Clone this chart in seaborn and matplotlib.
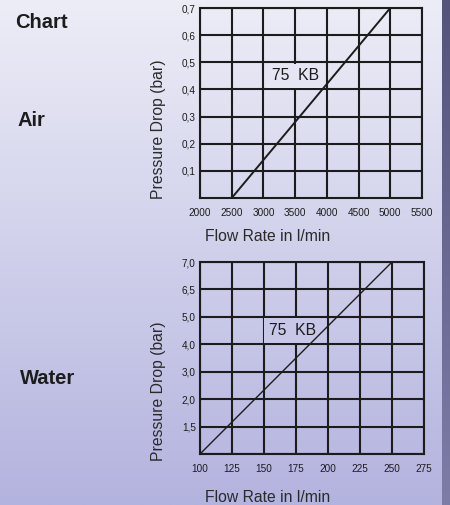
"""Pressure drop charts for 75 KB (air and water)"""

import numpy as np
import pandas as pd
import matplotlib
matplotlib.use('Agg')
import matplotlib.pyplot as plt
from matplotlib.colors import LinearSegmentedColormap
import seaborn as sns

# Data ################################################
AIR_FLOW = [2500, 5000]
AIR_DROP = [0.0, 0.7]
AIR_XTICKS = [2000, 2500, 3000, 3500, 4000, 4500, 5000, 5500]
AIR_YTICKS = [0.1, 0.2, 0.3, 0.4, 0.5, 0.6, 0.7]
AIR_YLABELS = ['0,1', '0,2', '0,3', '0,4', '0,5', '0,6', '0,7']

WATER_FLOW = [100, 250]
WATER_ROW = [0, 7]
WATER_XTICKS = [100, 125, 150, 175, 200, 225, 250, 275]
WATER_YLABELS = ['', '1,5', '2,0', '3,0', '4,0', '5,0', '6,5', '7,0']

MODEL = '75  KB'

sns.set_style('white')
plt.rcParams['font.family'] = ['Liberation Sans', 'DejaVu Sans']

INK = '#1c1c1c'
GRID_W = 1.5

fig = plt.figure(figsize=(4.5, 5.05), dpi=100)

# Background gradient ################################################
bg = fig.add_axes([0, 0, 1, 1], zorder=-10)
grad = np.linspace(0, 1, 256).reshape(-1, 1)
bg.imshow(grad, aspect='auto', extent=[0, 1, 0, 1], origin='upper',
          cmap=LinearSegmentedColormap.from_list('bg', ['#ededf7', '#b3b3df']))
bg.imshow(grad, aspect='auto', extent=[442 / 450, 1, 0, 1], origin='upper',
          cmap=LinearSegmentedColormap.from_list('strip', ['#53537b', '#7d7da8']))
bg.set_xlim(0, 1)
bg.set_ylim(0, 1)
bg.axis('off')

for label, x, y in [('Chart', 15, 22), ('Air', 18, 120), ('Water', 20, 378)]:
    fig.text(x / 450, 1 - y / 505, label, fontsize=14.5, fontweight='bold',
             color=INK, va='center')


def style_axes(ax, xticks, xlim, ylim):
    ax.set_facecolor('none')
    ax.set_xlim(*xlim)
    ax.set_ylim(*ylim)
    ax.set_xticks(xticks)
    ax.set_xticklabels([str(t) for t in xticks])
    ax.grid(True, color=INK, linewidth=GRID_W)
    for s in ax.spines.values():
        s.set_visible(True)
        s.set_color(INK)
        s.set_linewidth(GRID_W)
    ax.tick_params(axis='x', length=0, pad=7, labelsize=7.2, colors=INK)
    ax.tick_params(axis='y', length=0, pad=3, labelsize=7.2, colors=INK)
    ax.set_xlabel('Flow Rate in l/min', fontsize=11.3, color='#2a2a2a')
    ax.set_ylabel('Pressure Drop (bar)', fontsize=11.3, color='#2a2a2a')


# Air ################################################
ax1 = fig.add_axes([200 / 450, 1 - 198 / 505, 222 / 450, 190 / 505])
air = pd.DataFrame({'flow': AIR_FLOW, 'drop': AIR_DROP})
sns.lineplot(data=air, x='flow', y='drop', ax=ax1, color=INK, linewidth=1.4)
style_axes(ax1, AIR_XTICKS, (2000, 5500), (0, 0.7))
ax1.set_yticks(AIR_YTICKS)
ax1.set_yticklabels(AIR_YLABELS)
ax1.xaxis.set_label_coords(0.304, -0.165)
ax1.yaxis.set_label_coords(-0.153, 0.363)
ax1.text(3500, 0.45, MODEL, ha='center', va='center', fontsize=11.3, color=INK,
         zorder=1.5,
         bbox=dict(boxstyle='square,pad=0.3', facecolor='#e5e5f3', edgecolor='none'))

# Water ################################################
ax2 = fig.add_axes([200 / 450, 1 - 454 / 505, 224 / 450, 192 / 505])
water = pd.DataFrame({'flow': WATER_FLOW, 'row': WATER_ROW})
sns.lineplot(data=water, x='flow', y='row', ax=ax2, color=INK, linewidth=1.0)
style_axes(ax2, WATER_XTICKS, (100, 275), (0, 7))
ax2.set_yticks(range(len(WATER_YLABELS)))
ax2.set_yticklabels(WATER_YLABELS)
ax2.xaxis.set_label_coords(0.301, -0.185)
ax2.yaxis.set_label_coords(-0.152, 0.325)
ax2.text(172, 4.5, MODEL, ha='center', va='center', fontsize=11.3, color=INK,
         zorder=1.5,
         bbox=dict(boxstyle='square,pad=0.3', facecolor='#c7c7e7', edgecolor='none'))

plt.savefig('out.png', dpi=100)
plt.close()
